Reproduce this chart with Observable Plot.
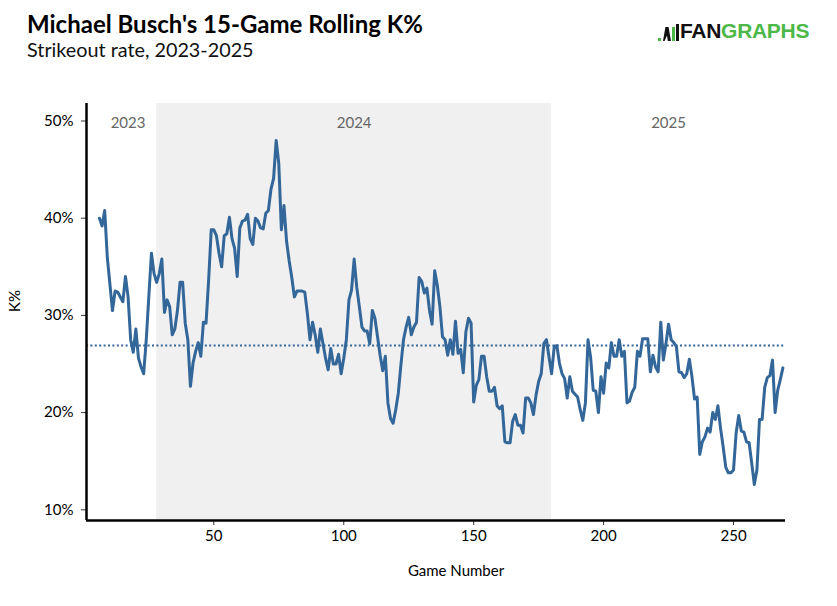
<!DOCTYPE html>
<html>
<head>
<meta charset="utf-8">
<script src="https://cdn.jsdelivr.net/npm/d3@7"></script>
<script src="https://cdn.jsdelivr.net/npm/@observablehq/plot@0.6"></script>
<style>
  body { margin: 0; background: #fff; font-family: Lato, "Noto Sans", sans-serif; }
  #wrap { position: relative; width: 837px; height: 606px; overflow: hidden; }
  #head { position: relative; height: 80px; }
  #title { position: absolute; left: 27px; top: 9px; font-size: 24px; font-weight: 700; color: #000; white-space: nowrap; }
  #subtitle { position: absolute; left: 27px; top: 37px; font-size: 19.8px; color: #111; white-space: nowrap; }
  #logo { position: absolute; left: 658px; top: 19px; height: 24px; white-space: nowrap; }
  #logo .t { position: absolute; left: 22px; top: 0px; font-family: "Liberation Sans", Arial, sans-serif; font-weight: 700; font-size: 21px; letter-spacing: -0.3px; }
  #logo .b { position: absolute; bottom: 2px; width: 3px; }
</style>
</head>
<body>
<div id="wrap">
  <div id="head">
    <div id="title">Michael Busch's 15-Game Rolling K%</div>
    <div id="subtitle">Strikeout rate, 2023-2025</div>
    <div id="logo">
      <span class="b" style="left:0px;height:3px;background:#4cb848"></span>
      <span class="b" style="left:5px;height:14px;width:8px;background:#111;clip-path:polygon(30% 0,70% 0,100% 100%,60% 100%,50% 60%,20% 100%,0 100%)"></span>
      <span class="b" style="left:14px;height:14px;background:#4cb848"></span>
      <span class="b" style="left:18px;height:17px;background:#111"></span>
      <span class="t"><span style="color:#111">FAN</span><span style="color:#4cb848">GRAPHS</span></span>
    </div>
  </div>
  <div id="chart"></div>
</div>
<script>
// ---- data ----
const games = [6,7,8,9,11,12,13,15,16,17,18,19,20,21,22,23,24,25,26,27,28,29,30,31,32,33,34,35,36,37,38,39,40,41,42,43,44,45,46,47,48,49,50,51,52,53,54,55,56,57,58,59,60,61,62,63,64,65,66,67,68,69,70,71,72,73,74,75,76,77,78,79,80,81,82,83,84,85,86,87,88,89,90,91,92,93,94,95,96,97,98,99,100,101,102,103,104,105,106,107,108,109,110,111,112,113,114,115,116,117,118,119,120,121,122,123,124,125,126,127,128,129,130,131,132,133,134,135,136,137,138,139,140,141,142,143,144,145,146,147,148,149,150,151,152,153,154,155,156,157,158,159,160,161,162,163,164,165,166,167,168,169,170,171,172,173,174,175,176,177,178,179,180,181,182,183,184,185,186,187,188,189,190,191,192,193,194,195,196,197,198,199,200,201,202,203,204,205,206,207,208,209,210,211,212,213,214,215,216,217,218,219,220,221,222,223,224,225,226,227,228,229,230,231,232,233,234,235,236,237,238,239,240,241,242,243,244,245,246,247,248,249,250,251,252,253,254,255,256,257,258,259,260,261,262,263,264,265,266,267,268,269];
const kRate = [40.0,39.2,40.8,36.0,30.5,32.5,32.4,31.4,34.0,31.9,27.5,26.2,28.6,25.6,24.7,24.0,27.5,32.0,36.4,34.3,33.4,34.3,35.8,30.3,31.6,30.9,28.0,28.6,30.5,33.4,33.4,29.2,27.5,22.7,25.1,26.3,27.2,25.8,29.3,29.2,33.6,38.8,38.8,38.2,36.4,35.0,38.2,38.4,40.1,37.9,36.9,34.0,39.0,39.7,39.8,40.4,37.9,37.3,40.0,39.7,39.0,38.9,40.5,40.8,43.0,44.1,48.0,45.6,38.8,41.3,37.6,35.6,33.9,31.9,32.5,32.5,32.5,32.4,30.2,27.5,29.3,28.0,26.2,28.6,27.1,25.6,24.4,26.6,25.0,25.0,26.0,24.0,25.6,27.5,31.6,32.6,35.8,32.9,30.9,28.8,28.4,28.4,27.1,30.5,29.7,27.8,25.9,24.3,25.8,21.0,19.4,18.9,20.3,22.0,24.9,27.5,28.8,29.8,28.0,28.8,29.3,33.9,33.5,32.3,32.8,30.5,29.1,34.6,33.1,30.9,27.8,27.5,25.9,27.5,26.0,29.4,26.1,26.5,24.1,28.3,29.7,29.2,21.1,22.8,23.4,25.8,25.8,23.7,22.2,22.2,22.6,20.7,20.4,20.7,17.0,16.9,16.9,19.1,19.8,18.7,18.7,17.9,21.5,21.5,21.0,19.8,21.8,23.2,24.0,27.1,27.5,25.7,24.0,26.8,26.9,25.1,24.0,23.5,21.5,23.7,22.2,21.9,21.6,20.3,19.2,21.0,27.5,25.7,22.3,22.2,20.0,23.7,22.0,25.1,24.6,27.2,25.8,25.8,27.5,25.8,26.3,21.0,21.2,22.1,22.6,26.3,25.8,27.6,27.6,27.6,24.2,25.9,24.7,24.2,29.3,25.4,27.1,29.1,27.5,27.2,26.8,24.2,24.1,23.6,24.0,25.5,23.7,21.4,21.6,15.7,17.0,17.5,18.4,18.0,20.0,19.3,20.7,18.4,16.5,14.4,13.8,13.8,14.1,17.9,19.7,18.1,18.0,17.0,16.9,14.8,12.6,14.1,19.3,19.3,22.6,23.6,23.8,25.4,20.0,22.3,23.4,24.6];
const seasons = ["2023", "2024", "2025"];
const seasonStart = [6, 28, 180];
const seasonEnd = [28, 180, 270];
const shadedSeason = "2024";
const averageK = 26.9;
const xTicks = [50, 100, 150, 200, 250];
const yTicks = [10, 20, 30, 40, 50];
const xDomain = [1, 270];
const yDomain = [8.9, 51.8];

const series = games.map((g, i) => ({game: g, k: kRate[i]}));
const seasonRows = seasons.map((s, i) => ({season: s, start: seasonStart[i], end: seasonEnd[i], mid: (seasonStart[i] + seasonEnd[i]) / 2}));

const chart = Plot.plot({
  width: 837,
  height: 526,
  marginTop: 23,
  marginBottom: 86,
  marginLeft: 86,
  marginRight: 52,
  style: {fontFamily: "Lato, sans-serif", fontSize: "15px", color: "#000", background: "transparent"},
  x: {domain: xDomain, label: null},
  y: {domain: yDomain, label: null},
  marks: [
    Plot.rect(seasonRows.filter(d => d.season === shadedSeason), {x1: "start", x2: "end", fill: "#f0f0f0"}),
    Plot.ruleY([averageK], {stroke: "#336699", strokeWidth: 2, strokeDasharray: "2,2.4"}),
    Plot.line(series, {x: "game", y: "k", stroke: "#336699", strokeWidth: 3, strokeLinejoin: "round"}),
    Plot.text(seasonRows, {x: "mid", text: "season", frameAnchor: "top", lineAnchor: "middle", dy: 20, fill: "#666", fontSize: 15}),
    Plot.axisX({ticks: xTicks, tickSize: 5, tickPadding: 5, stroke: "#333", label: null, fontSize: 15}),
    Plot.axisY({ticks: yTicks, tickSize: 5, tickPadding: 8, stroke: "#333", tickFormat: d => d + "%", label: null, fontSize: 15}),
    Plot.ruleX([xDomain[0]], {stroke: "#000", strokeWidth: 2.5}),
    Plot.ruleY([yDomain[0]], {stroke: "#000", strokeWidth: 2.5}),
    Plot.text(["K%"], {frameAnchor: "left", dx: -71, rotate: -90, fontSize: 15, fill: "#000"}),
    Plot.text(["Game Number"], {frameAnchor: "bottom", dx: 20, dy: 55, fontSize: 15, fill: "#000"})
  ]
});
document.getElementById("chart").appendChild(chart);
</script>
</body>
</html>
